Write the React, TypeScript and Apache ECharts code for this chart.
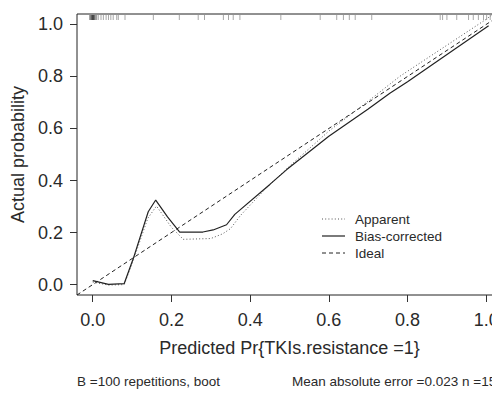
import React, { useEffect, useRef } from "react";
import * as echarts from "echarts";

// Calibration curves (predicted probability -> actual probability)
const apparentX = [0.0, 0.04, 0.08, 0.1, 0.14, 0.162, 0.2, 0.23, 0.3, 0.33, 0.35, 0.375, 0.44, 0.5, 0.6, 0.7, 0.78, 0.9, 1.0, 1.013];
const apparentY = [0.01, -0.002, 0.0, 0.08, 0.255, 0.302, 0.22, 0.174, 0.177, 0.195, 0.215, 0.265, 0.37, 0.455, 0.59, 0.705, 0.8, 0.92, 1.02, 1.035];

const biasX = [0.0, 0.04, 0.08, 0.103, 0.141, 0.16, 0.19, 0.221, 0.28, 0.306, 0.34, 0.361, 0.45, 0.493, 0.6, 0.7, 0.755, 0.8, 0.925, 1.006];
const biasY = [0.015, 0.001, 0.004, 0.1, 0.28, 0.325, 0.26, 0.202, 0.202, 0.21, 0.23, 0.27, 0.385, 0.442, 0.57, 0.675, 0.735, 0.78, 0.91, 0.995];

const idealX = [-0.04, 1.04];
const idealY = [-0.04, 1.04];

// Rug of predicted probabilities (top of plot)
const rugValues = [
  -0.008, -0.006, -0.004, -0.004, -0.002, -0.002, 0.0, 0.0, 0.0, 0.002, 0.002, 0.004, 0.004, 0.006, 0.008, 0.01,
  0.014, 0.021, 0.027, 0.034, 0.04, 0.046, 0.052, 0.061, 0.065, 0.082,
  0.154, 0.22, 0.268, 0.284, 0.332, 0.345, 0.357, 0.374, 0.478, 0.578,
  0.62, 0.637, 0.652, 0.667, 0.709, 0.883, 0.889, 0.9, 0.925,
  0.955, 0.967, 0.98, 0.993, 1.001, 1.01,
];

const tickValues = [0, 0.2, 0.4, 0.6, 0.8, 1.0];

const legendItems = ["Apparent", "Bias-corrected", "Ideal"];

const xTitle = "Predicted Pr{TKIs.resistance =1}";
const yTitle = "Actual probability";
const footLeft = "B =100 repetitions, boot";
const footRight = "Mean absolute error =0.023 n =156";

const FONT = "'Liberation Sans', Arial, Helvetica, sans-serif";
const INK = "#2a2a2a";

function zip(xs: number[], ys: number[]) {
  return xs.map((x, i) => [x, ys[i]]);
}

export default function App() {
  const ref = useRef<HTMLDivElement>(null);

  useEffect(() => {
    if (!ref.current) return;
    const chart = echarts.init(ref.current, undefined, { renderer: "svg" });

    const legendStyles = [
      { lineDash: [1, 2.2], stroke: "#555", lineWidth: 1 },
      { lineDash: null as any, stroke: "#222", lineWidth: 1.2 },
      { lineDash: [4, 3], stroke: "#222", lineWidth: 1 },
    ];
    const legendGraphics: any[] = [];
    legendItems.forEach((name, i) => {
      const y = 219 + i * 17;
      legendGraphics.push({
        type: "line",
        shape: { x1: 322, y1: y, x2: 345, y2: y },
        style: { stroke: legendStyles[i].stroke, lineWidth: legendStyles[i].lineWidth, lineDash: legendStyles[i].lineDash },
      });
      legendGraphics.push({
        type: "text",
        x: 355,
        y: y,
        style: { text: name, font: `13.5px ${FONT}`, fill: INK, textVerticalAlign: "middle", textAlign: "left" },
      });
    });

    const option: any = {
      animation: false,
      grid: {
        left: 77,
        top: 14,
        right: -10,
        bottom: 100,
        show: true,
        borderColor: "#222",
        borderWidth: 1,
        backgroundColor: "transparent",
        outerBoundsMode: "none",
      },
      xAxis: {
        type: "value",
        min: -0.04,
        max: 1.04,
        axisLine: { show: false, onZero: false },
        splitLine: { show: false },
        axisTick: { show: true, length: 7, lineStyle: { color: "#333" }, customValues: tickValues },
        axisLabel: {
          customValues: tickValues,
          formatter: (v: number) => v.toFixed(1),
          fontSize: 18,
          fontFamily: FONT,
          color: INK,
          margin: 16,
        },
        name: xTitle,
        nameLocation: "middle",
        nameGap: 44,
        nameTextStyle: { fontSize: 18, fontFamily: FONT, color: INK },
      },
      yAxis: {
        type: "value",
        min: -0.04,
        max: 1.04,
        axisLine: { show: false, onZero: false },
        splitLine: { show: false },
        axisTick: { show: true, length: 7, lineStyle: { color: "#333" }, customValues: tickValues },
        axisLabel: {
          customValues: tickValues,
          formatter: (v: number) => v.toFixed(1),
          fontSize: 18,
          fontFamily: FONT,
          color: INK,
          margin: 14,
        },
        name: yTitle,
        nameLocation: "middle",
        nameGap: 46,
        nameRotate: 90,
        nameTextStyle: { fontSize: 18, fontFamily: FONT, color: INK },
      },
      series: [
        {
          name: "Ideal",
          type: "line",
          data: zip(idealX, idealY),
          showSymbol: false,
          clip: true,
          lineStyle: { color: "#222", width: 1, type: [4, 3] },
        },
        {
          name: "Apparent",
          type: "line",
          data: zip(apparentX, apparentY),
          showSymbol: false,
          clip: true,
          lineStyle: { color: "#555", width: 1, type: [1, 2.2] },
        },
        {
          name: "Bias-corrected",
          type: "line",
          data: zip(biasX, biasY),
          showSymbol: false,
          clip: true,
          lineStyle: { color: "#222", width: 1.2 },
        },
        {
          name: "rug",
          type: "custom",
          data: rugValues.map((v) => [v, 1.04]),
          renderItem: (_params: any, api: any) => {
            const p = api.coord([api.value(0), api.value(1)]);
            return {
              type: "line",
              shape: { x1: p[0], y1: p[1] + 1, x2: p[0], y2: p[1] + 6 },
              style: { stroke: "rgba(0,0,0,0.35)", lineWidth: 1 },
            };
          },
        },
      ],
      graphic: [
        ...legendGraphics,
        {
          type: "text",
          x: 77,
          y: 381,
          style: { text: footLeft, font: `13.5px ${FONT}`, fill: INK, textVerticalAlign: "middle" },
        },
        {
          type: "text",
          x: 292,
          y: 381,
          style: { text: footRight, font: `13.5px ${FONT}`, fill: INK, textVerticalAlign: "middle" },
        },
      ],
    };

    chart.setOption(option);
    return () => chart.dispose();
  }, []);

  return (
    <div
      ref={ref}
      style={{ position: "fixed", left: 0, top: 0, width: 492, height: 395, background: "#fff" }}
    />
  );
}
